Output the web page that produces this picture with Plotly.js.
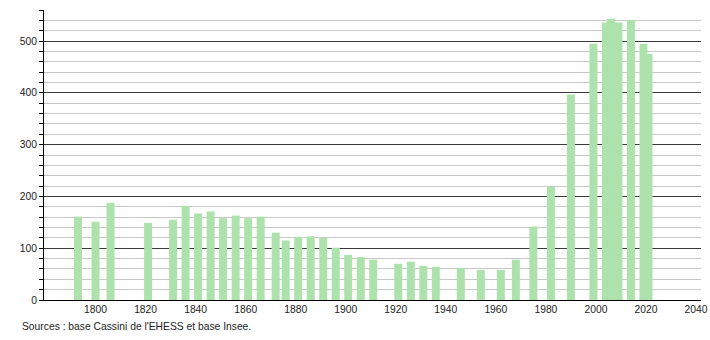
<!DOCTYPE html>
<html>
<head>
<meta charset="utf-8">
<script src="https://cdn.plot.ly/plotly-3.0.1.min.js"></script>
<style>html,body{margin:0;padding:0;background:#fff;}#chart{width:710px;height:340px;}</style>
</head>
<body>
<div id="chart"></div>
<script>
const years = [1793, 1800, 1806, 1821, 1831, 1836, 1841, 1846, 1851, 1856, 1861, 1866,
  1872, 1876, 1881, 1886, 1891, 1896, 1901, 1906, 1911, 1921, 1926, 1931, 1936,
  1946, 1954, 1962, 1968, 1975, 1982, 1990, 1999, 2004, 2006, 2009, 2014, 2019, 2021];
const population = [161, 151, 188, 149, 155, 182, 167, 171, 158, 163, 158, 161,
  130, 115, 122, 123, 120, 101, 87, 83, 78, 70, 74, 66, 64,
  62, 58, 58, 78, 142, 218, 397, 495, 536, 543, 536, 540, 495, 475];
const xTicks = [1800, 1820, 1840, 1860, 1880, 1900, 1920, 1940, 1960, 1980, 2000, 2020, 2040];
const yTicks = [0, 100, 200, 300, 400, 500];
const sourceText = "Sources : base Cassini de l'EHESS et base Insee.";

const trace = {
  type: 'bar',
  x: years,
  y: population,
  width: 3.2,
  marker: {color: 'rgb(174,226,172)', line: {width: 0}},
  hoverinfo: 'x+y'
};

const layout = {
  width: 710, height: 340,
  margin: {l: 44, r: 9, t: 10, b: 40},
  paper_bgcolor: '#fff', plot_bgcolor: '#fff',
  font: {family: '"Liberation Sans", Arial, sans-serif', size: 10.3, color: '#222'},
  showlegend: false,
  barmode: 'overlay',
  xaxis: {
    range: [1779.4, 2042],
    tickvals: xTicks,
    ticktext: xTicks.map(String),
    ticks: '',
    showgrid: false,
    zeroline: false,
    showline: true,
    linecolor: '#000',
    linewidth: 1,
    tickfont: {size: 10.3, color: '#222'}
  },
  yaxis: {
    range: [0, 560],
    tickvals: yTicks,
    ticktext: yTicks.map(String),
    ticks: 'outside',
    ticklen: 4,
    tickcolor: '#000',
    showgrid: true,
    gridcolor: '#3a3a3a',
    gridwidth: 1,
    zeroline: false,
    showline: true,
    linecolor: '#000',
    linewidth: 1,
    tickfont: {size: 10.3, color: '#222'},
    minor: {
      dtick: 20,
      showgrid: true,
      gridcolor: '#c8c8c8',
      gridwidth: 1,
      ticks: 'outside',
      ticklen: 4,
      tickcolor: '#000'
    }
  },
  annotations: [{
    xref: 'paper', yref: 'paper',
    x: -0.0365, y: -0.093,
    xanchor: 'left', yanchor: 'middle',
    text: sourceText,
    showarrow: false,
    font: {size: 10.3, color: '#222'}
  }]
};

Plotly.newPlot('chart', [trace], layout, {displayModeBar: false, staticPlot: true});
</script>
</body>
</html>
